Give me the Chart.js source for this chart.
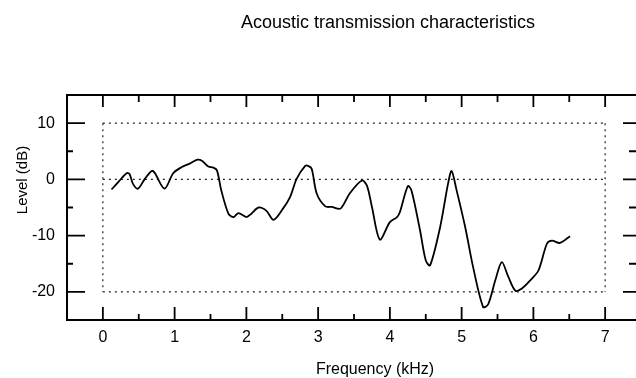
<!DOCTYPE html>
<html>
<head>
<meta charset="utf-8">
<script src="https://cdn.jsdelivr.net/npm/chart.js@4/dist/chart.umd.min.js"></script>
<style>
  html, body { margin: 0; padding: 0; background: #fff; }
  canvas { display: block; }
</style>
</head>
<body>
<canvas id="chart" width="636" height="378" style="width:636px;height:378px"></canvas>
<script>
// frequency in kHz, level in dB
const freq = [0.12, 0.22, 0.33, 0.37, 0.42, 0.49, 0.58, 0.68, 0.72, 0.86,
  0.98, 1.10, 1.21, 1.32, 1.38, 1.47, 1.54, 1.59, 1.65, 1.75,
  1.82, 1.89, 2.00, 2.07, 2.17, 2.28, 2.38, 2.51, 2.61, 2.70,
  2.82, 2.86, 2.91, 2.98, 3.10, 3.19, 3.31, 3.44, 3.61, 3.68,
  3.75, 3.86, 4.00, 4.10, 4.14, 4.25, 4.30, 4.42, 4.50, 4.56,
  4.70, 4.81, 4.86, 4.93, 5.05, 5.16, 5.30, 5.37, 5.47, 5.56,
  5.65, 5.75, 5.84, 5.96, 6.07, 6.19, 6.26, 6.37, 6.51];
const level = [-1.8, -0.4, 1.1, 1.0, -0.8, -1.65, 0.0, 1.5, 1.2, -1.65,
  1.1, 2.2, 2.8, 3.5, 3.3, 2.3, 2.1, 1.6, -1.95, -6.1,
  -6.7, -6.0, -6.7, -6.1, -5.0, -5.6, -7.2, -5.2, -3.1, 0.1,
  2.4, 2.4, 1.9, -2.5, -4.8, -4.9, -5.2, -2.5, -0.2, -1.1,
  -4.9, -10.7, -7.6, -6.7, -5.8, -1.2, -1.95, -9.05, -14.4, -15.3,
  -8.5, -0.8, 1.5, -1.95, -8.5, -15.6, -22.7, -22.2, -17.9, -14.7,
  -17.3, -19.8, -19.4, -17.9, -16.2, -11.4, -10.9, -11.3, -10.1];

const xTicks = [0, 1, 2, 3, 4, 5, 6, 7];
const xMinor = [0.5, 1.5, 2.5, 3.5, 4.5, 5.5, 6.5];
const yTicks = [-20, -10, 0, 10];
const yMinor = [-15, -5, 5];

const FONT = "'Liberation Sans', Arial, Helvetica, sans-serif";
const INK = '#000';

// frame, inward ticks, dotted box and titles
const framePlugin = {
  id: 'frame',
  beforeDatasetsDraw(chart) {
    const { ctx, chartArea: a, scales: { x, y } } = chart;
    ctx.save();
    // dotted box 0..7 kHz, -20..10 dB, plus the 0 dB line
    ctx.strokeStyle = '#222';
    ctx.lineWidth = 1.2;
    ctx.setLineDash([2, 4]);
    const x0 = x.getPixelForValue(0), x7 = x.getPixelForValue(7);
    const yt = y.getPixelForValue(10), yb = y.getPixelForValue(-20), yz = y.getPixelForValue(0);
    ctx.beginPath();
    ctx.moveTo(x0, yt); ctx.lineTo(x7, yt);
    ctx.moveTo(x0, yz); ctx.lineTo(x7, yz);
    ctx.moveTo(x0, yb); ctx.lineTo(x7, yb);
    ctx.moveTo(x0, yt); ctx.lineTo(x0, yb);
    ctx.moveTo(x7, yt); ctx.lineTo(x7, yb);
    ctx.stroke();
    ctx.setLineDash([]);

    // outer frame (right edge falls outside the picture)
    ctx.strokeStyle = INK;
    ctx.lineWidth = 2;
    ctx.beginPath();
    ctx.moveTo(a.right, a.top); ctx.lineTo(a.left, a.top);
    ctx.lineTo(a.left, a.bottom); ctx.lineTo(a.right, a.bottom);
    ctx.stroke();

    ctx.lineWidth = 1.8;
    ctx.beginPath();
    xTicks.forEach(v => {
      const px = x.getPixelForValue(v);
      ctx.moveTo(px, a.top); ctx.lineTo(px, a.top + 12);
      ctx.moveTo(px, a.bottom); ctx.lineTo(px, a.bottom - 13);
    });
    xMinor.forEach(v => {
      const px = x.getPixelForValue(v);
      ctx.moveTo(px, a.top); ctx.lineTo(px, a.top + 7);
      ctx.moveTo(px, a.bottom); ctx.lineTo(px, a.bottom - 6);
    });
    yTicks.forEach(v => {
      const py = y.getPixelForValue(v);
      ctx.moveTo(a.left, py); ctx.lineTo(a.left + 18, py);
      ctx.moveTo(a.right, py); ctx.lineTo(a.right - 13, py);
    });
    yMinor.forEach(v => {
      const py = y.getPixelForValue(v);
      ctx.moveTo(a.left, py); ctx.lineTo(a.left + 6, py);
      ctx.moveTo(a.right, py); ctx.lineTo(a.right - 7, py);
    });
    ctx.stroke();
    ctx.restore();
  },
  afterDraw(chart) {
    const { ctx } = chart;
    ctx.save();
    ctx.fillStyle = INK;
    ctx.textAlign = 'center';
    ctx.textBaseline = 'alphabetic';
    ctx.font = '18px ' + FONT;
    ctx.fillText('Acoustic transmission characteristics', 388, 28);
    ctx.font = '16px ' + FONT;
    ctx.fillText('Frequency (kHz)', 375, 374);
    ctx.translate(27, 180);
    ctx.rotate(-Math.PI / 2);
    ctx.font = '15px ' + FONT;
    ctx.fillText('Level (dB)', 0, 0);
    ctx.restore();
  }
};

new Chart(document.getElementById('chart'), {
  type: 'line',
  data: {
    datasets: [{
      data: freq.map((f, i) => ({ x: f, y: level[i] })),
      borderColor: INK,
      borderWidth: 1.8,
      pointRadius: 0,
      tension: 0.3,
      fill: false
    }]
  },
  options: {
    responsive: false,
    animation: false,
    layout: { padding: { top: 95, right: 0, bottom: 0, left: 0 } },
    plugins: {
      legend: { display: false },
      tooltip: { enabled: false },
      title: { display: false }
    },
    scales: {
      x: {
        type: 'linear',
        min: -0.5,
        max: 7.43,
        border: { display: false },
        grid: { display: false, drawTicks: false },
        afterBuildTicks: s => { s.ticks = xTicks.map(v => ({ value: v })); },
        afterFit: s => { s.height = 58; },
        ticks: { padding: 8, color: INK, font: { size: 16, family: FONT }, maxRotation: 0, autoSkip: false }
      },
      y: {
        min: -25,
        max: 15,
        border: { display: false },
        grid: { display: false, drawTicks: false },
        afterBuildTicks: s => { s.ticks = yTicks.map(v => ({ value: v })); },
        afterFit: s => { s.width = 67; },
        ticks: { padding: 12, color: INK, font: { size: 16, family: FONT } }
      }
    }
  },
  plugins: [framePlugin]
});
</script>
</body>
</html>
